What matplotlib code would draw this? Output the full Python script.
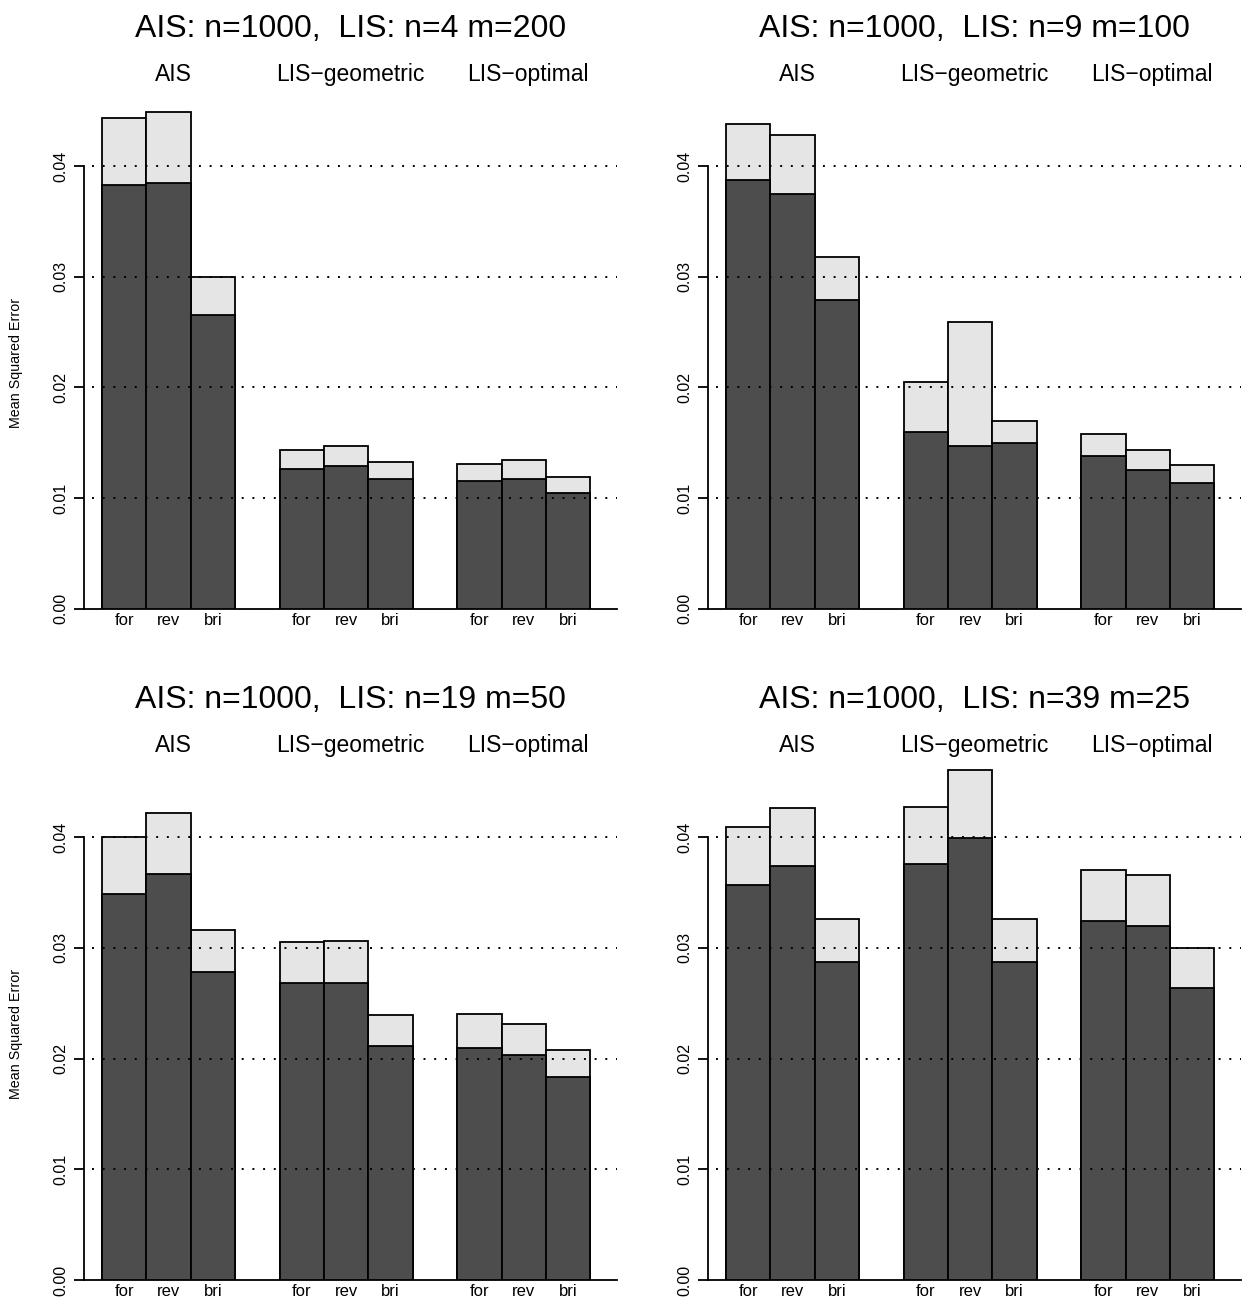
import matplotlib
matplotlib.use("Agg")
import matplotlib.pyplot as plt

plt.rcParams['font.family'] = ['Liberation Sans', 'DejaVu Sans']

methods = ["AIS", "LIS\u2212geometric", "LIS\u2212optimal"]
directions = ["for", "rev", "bri"]
titles = ["AIS: n=1000,  LIS: n=4 m=200",
          "AIS: n=1000,  LIS: n=9 m=100",
          "AIS: n=1000,  LIS: n=19 m=50",
          "AIS: n=1000,  LIS: n=39 m=25"]

# total height of each bar (light part on top), per panel
total_n4 = [0.0443, 0.0449, 0.0300, 0.0143, 0.0147, 0.0133, 0.0131, 0.0134, 0.0119]
total_n9 = [0.0438, 0.0428, 0.0318, 0.0205, 0.0259, 0.0170, 0.0158, 0.0143, 0.0130]
total_n19 = [0.0400, 0.0422, 0.0316, 0.0305, 0.0306, 0.0239, 0.0240, 0.0231, 0.0208]
total_n39 = [0.0409, 0.0426, 0.0326, 0.0427, 0.0461, 0.0326, 0.0370, 0.0366, 0.0300]

# dark lower part of each bar
dark_n4 = [0.0383, 0.0385, 0.0265, 0.0126, 0.0129, 0.0117, 0.0115, 0.0117, 0.0105]
dark_n9 = [0.0387, 0.0375, 0.0279, 0.0160, 0.0147, 0.0150, 0.0138, 0.0125, 0.0114]
dark_n19 = [0.0349, 0.0367, 0.0278, 0.0268, 0.0268, 0.0211, 0.0210, 0.0203, 0.0183]
dark_n39 = [0.0357, 0.0374, 0.0287, 0.0376, 0.0399, 0.0287, 0.0324, 0.0320, 0.0264]

totals = [total_n4, total_n9, total_n19, total_n39]
darks = [dark_n4, dark_n9, dark_n19, dark_n39]

W, H = 1244, 1305
fig = plt.figure(figsize=(W / 100, H / 100), dpi=100)

ymax = 0.047
px_per_unit = 11070  # pixels per 1.0 of y
ax_w = 533
ax_h = ymax * px_per_unit
lefts = [84, 708]
zeros = [608.8, 1280]
row_tops = [0, 671]

lw = 1.3
pos = [4 * g + j for g in range(3) for j in range(3)]
centers = [p + 0.5 for p in pos]

for k in range(4):
    r, c = divmod(k, 2)
    x0 = lefts[c]
    y0 = zeros[r]
    ax_top = y0 - ax_h
    ax = fig.add_axes([x0 / W, 1 - y0 / H, ax_w / W, ax_h / H])

    ax.bar(pos, totals[k], width=1, align='edge', color='#e5e5e5',
           edgecolor='black', linewidth=lw, zorder=2)
    ax.bar(pos, darks[k], width=1, align='edge', color='#4d4d4d',
           edgecolor='black', linewidth=lw, zorder=3)

    for yv in [0.01, 0.02, 0.03, 0.04]:
        ax.axhline(yv, xmin=0.015, color='black', linewidth=1.4,
                   linestyle=(0, (1, 4.5)), zorder=4)

    ax.set_xlim(-0.405, 11.6)
    ax.set_ylim(0, ymax)

    for s in ['top', 'right']:
        ax.spines[s].set_visible(False)
    ax.spines['left'].set_bounds(0, 0.04)
    ax.spines['left'].set_linewidth(lw)
    ax.spines['bottom'].set_linewidth(lw)

    ax.set_yticks([0, 0.01, 0.02, 0.03, 0.04])
    ax.set_yticklabels(["0.00", "0.01", "0.02", "0.03", "0.04"],
                       rotation=90, va='center', fontsize=11.5)
    ax.tick_params(axis='y', length=7.2, width=lw, pad=4)

    ax.set_xticks(centers)
    ax.set_xticklabels(directions * 3, fontsize=12)
    ax.tick_params(axis='x', length=0, pad=3)

    # method names above each group
    for g, name in enumerate(methods):
        ax.annotate(name, xy=(4 * g + 1.6, 1), xycoords=('data', 'axes fraction'),
                    xytext=(0, (ax_top - (row_tops[r] + 81)) * 0.72),
                    textcoords='offset points',
                    ha='center', va='baseline', fontsize=16.5)

    ax.annotate(titles[k], xy=(0.5, 1), xycoords='axes fraction',
                xytext=(0, (ax_top - (row_tops[r] + 37)) * 0.72),
                textcoords='offset points',
                ha='center', va='baseline', fontsize=23)

    if c == 0:
        fig.text(16 / W, 1 - (y0 - ax_h / 2 + 14) / H, "Mean Squared Error",
                 rotation=90, ha='center', va='center', fontsize=10.3)

fig.savefig("out.png", dpi=100)
